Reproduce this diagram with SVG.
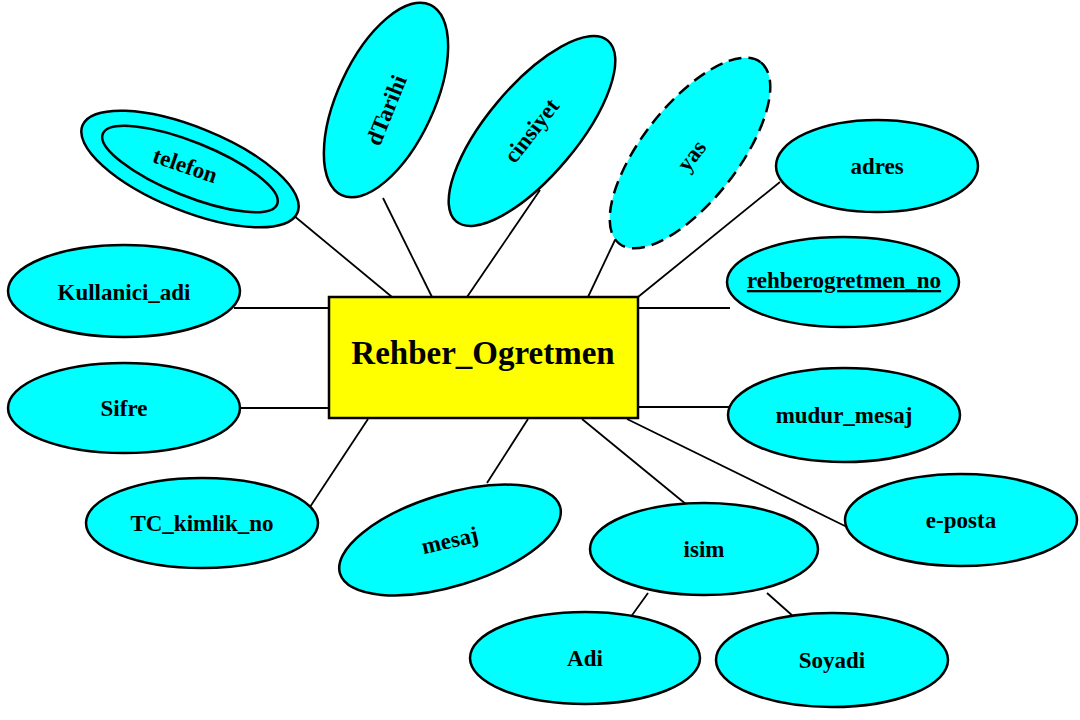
<svg xmlns="http://www.w3.org/2000/svg" width="1080" height="720" viewBox="0 0 1080 720">
<style>
.attr{fill:#00FFFF;stroke:#000;stroke-width:2.5}
.dash{stroke-dasharray:13 7}
.lbl{font-family:"Liberation Serif","Times New Roman",serif;font-weight:bold;font-size:23px;fill:#000;text-anchor:middle}
.ent{fill:#FFFF00;stroke:#000;stroke-width:2.5}
.conn line{stroke:#000;stroke-width:1.8}
</style>
<rect width="1080" height="720" fill="#fff"/>
<g class="conn" id="connectors">
<line x1="293" y1="215" x2="392" y2="297"/>
<line x1="383" y1="198" x2="432" y2="297"/>
<line x1="540" y1="190" x2="467" y2="297"/>
<line x1="615" y1="240" x2="588" y2="297"/>
<line x1="780" y1="182" x2="638" y2="297"/>
<line x1="638" y1="308" x2="730" y2="308"/>
<line x1="234" y1="308" x2="328" y2="308"/>
<line x1="238" y1="408" x2="328" y2="408"/>
<line x1="368" y1="419" x2="308" y2="510"/>
<line x1="528" y1="419" x2="487" y2="483"/>
<line x1="582" y1="419" x2="687" y2="505"/>
<line x1="638" y1="407" x2="730" y2="407"/>
<line x1="627" y1="419" x2="847" y2="527"/>
<line x1="648" y1="593" x2="625" y2="625"/>
<line x1="767" y1="593" x2="803" y2="625"/>
</g>
<g id="telefon">
<ellipse class="attr" cx="190" cy="169" rx="116" ry="42" transform="rotate(22 190 169)"/>
<ellipse class="attr" cx="190" cy="169" rx="94" ry="27" transform="rotate(22 190 169)"/>
<text class="lbl" x="185" y="173" transform="rotate(19 185 166)">telefon</text>
</g>
<g id="dTarihi">
<ellipse class="attr" cx="386" cy="100" rx="105" ry="48" transform="rotate(-65 386 100)"/>
<text class="lbl" x="386" y="118" transform="rotate(-68 386 110)">dTarihi</text>
</g>
<g id="cinsiyet">
<ellipse class="attr" cx="532" cy="131" rx="118" ry="45" transform="rotate(-50 532 131)"/>
<text class="lbl" x="532" y="138" transform="rotate(-52 532 131)">cinsiyet</text>
</g>
<g id="yas">
<ellipse class="attr dash" cx="690" cy="153" rx="115" ry="48" transform="rotate(-52 690 153)"/>
<text class="lbl" x="692" y="163" transform="rotate(-52 692 156)">yas</text>
</g>
<g id="adres">
<ellipse class="attr" cx="877" cy="166" rx="101" ry="46"/>
<text class="lbl" x="877" y="174">adres</text>
</g>
<g id="rehberogretmen_no">
<ellipse class="attr" cx="843" cy="282" rx="116" ry="45"/>
<text class="lbl" x="844" y="288" text-decoration="underline">rehberogretmen_no</text>
</g>
<g id="Kullanici_adi">
<ellipse class="attr" cx="124" cy="291" rx="116" ry="46"/>
<text class="lbl" x="124" y="300">Kullanici_adi</text>
</g>
<g id="Sifre">
<ellipse class="attr" cx="124" cy="408" rx="116" ry="45"/>
<text class="lbl" x="124" y="416">Sifre</text>
</g>
<g id="TC_kimlik_no">
<ellipse class="attr" cx="202" cy="523" rx="116" ry="45"/>
<text class="lbl" x="202" y="531">TC_kimlik_no</text>
</g>
<g id="mesaj">
<ellipse class="attr" cx="450" cy="540" rx="115" ry="46" transform="rotate(-17 450 540)"/>
<text class="lbl" x="450" y="548" transform="rotate(-13 450 541)">mesaj</text>
</g>
<g id="isim">
<ellipse class="attr" cx="704" cy="549" rx="114" ry="46"/>
<text class="lbl" x="704" y="557">isim</text>
</g>
<g id="Adi">
<ellipse class="attr" cx="585" cy="658" rx="115" ry="46"/>
<text class="lbl" x="585" y="666">Adi</text>
</g>
<g id="Soyadi">
<ellipse class="attr" cx="832" cy="660" rx="116" ry="47"/>
<text class="lbl" x="832" y="668">Soyadi</text>
</g>
<g id="mudur_mesaj">
<ellipse class="attr" cx="844" cy="415" rx="116" ry="47"/>
<text class="lbl" x="844" y="423">mudur_mesaj</text>
</g>
<g id="e-posta">
<ellipse class="attr" cx="961" cy="520" rx="116" ry="46"/>
<text class="lbl" x="961" y="528">e-posta</text>
</g>
<g id="Rehber_Ogretmen">
<rect class="ent" x="329" y="297" width="309" height="121"/>
<text class="lbl" x="483" y="364" style="font-size:33px">Rehber_Ogretmen</text>
</g>
</svg>
